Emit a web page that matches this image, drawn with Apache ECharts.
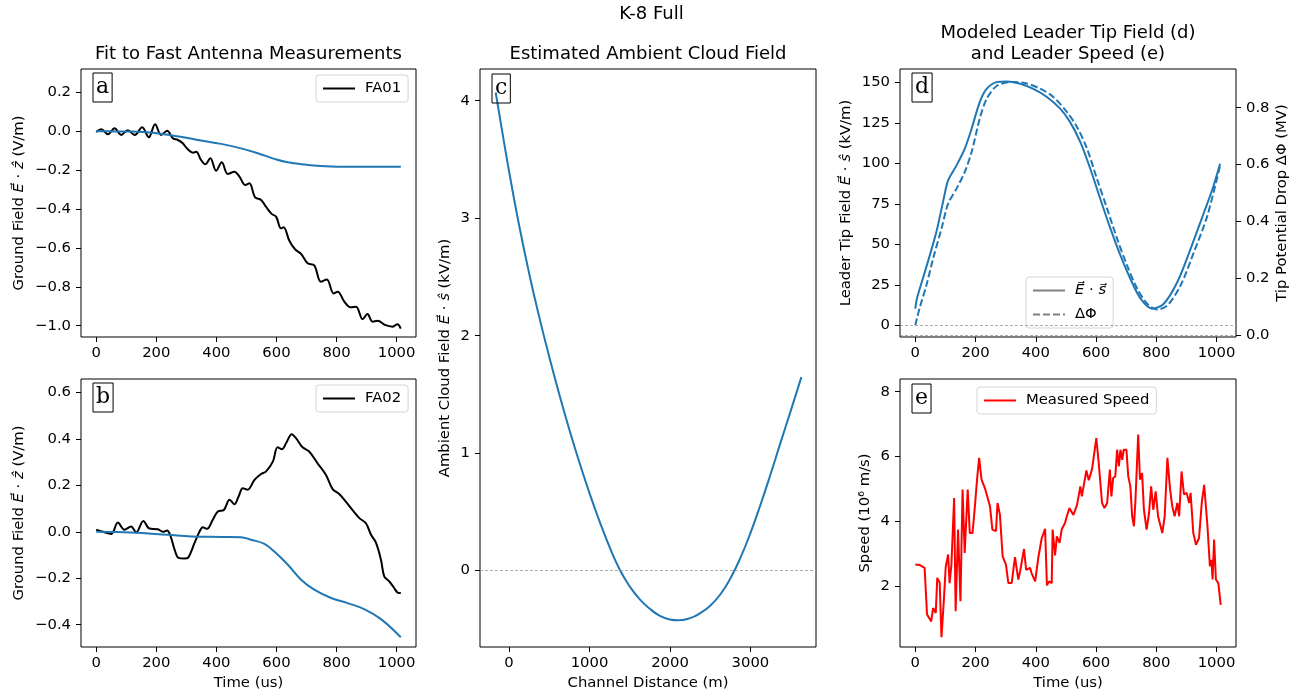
<!DOCTYPE html>
<html>
<head>
<meta charset="utf-8">
<script src="https://cdn.jsdelivr.net/npm/echarts@6/dist/echarts.min.js"></script>
<style>
  html, body { margin: 0; padding: 0; background: #fff; }
  #chart { width: 1303px; height: 699px; }
</style>
</head>
<body>
<div id="chart"></div>
<script>
// ---- data: [time (us), field (V/m)] ----
const fa01 = [[0,-0.004],[17,0.010],[39,-0.016],[61,0.015],[83,-0.019],[105,0.005],[128,-0.019],[153,0.020],[175,-0.031],[196,0.036],[216,-0.019],[236,0.003],[255,-0.036],[272,-0.045],[288,-0.062],[305,-0.093],[322,-0.110],[333,-0.106],[349,-0.148],[363,-0.170],[380,-0.139],[399,-0.203],[418,-0.160],[438,-0.220],[460,-0.208],[477,-0.233],[496,-0.276],[510,-0.268],[529,-0.340],[549,-0.353],[565,-0.388],[584,-0.425],[599,-0.439],[615,-0.499],[624,-0.494],[643,-0.563],[662,-0.607],[682,-0.631],[704,-0.679],[726,-0.690],[748,-0.774],[768,-0.762],[790,-0.834],[804,-0.825],[826,-0.876],[846,-0.905],[865,-0.902],[887,-0.967],[903,-0.940],[920,-0.979],[937,-0.974],[961,-0.996],[987,-1.005],[1003,-0.992],[1014,-1.015]];
const fit01 = [[0,0],[60,-0.001],[120,-0.002],[172,-0.005],[249,-0.021],[300,-0.033],[338,-0.045],[416,-0.065],[482,-0.088],[538,-0.113],[593,-0.142],[638,-0.160],[704,-0.173],[782,-0.181],[892,-0.183],[1014,-0.182]];

const fa02 = [[0,0.009],[22,0],[50,-0.009],[72,0.040],[94,0.009],[116,0.023],[133,-0.003],[157,0.047],[177,0.014],[205,0.011],[222,0],[236,0.006],[247,-0.017],[261,-0.077],[274,-0.112],[294,-0.115],[307,-0.110],[327,-0.049],[344,0.001],[355,0.020],[369,0.013],[388,0.052],[405,0.087],[425,0.094],[444,0.138],[460,0.119],[474,0.152],[488,0.188],[504,0.181],[527,0.224],[549,0.249],[565,0.259],[588,0.302],[604,0.364],[619,0.356],[632,0.381],[651,0.420],[665,0.403],[687,0.364],[709,0.346],[737,0.295],[765,0.245],[787,0.184],[809,0.163],[831,0.130],[853,0.094],[876,0.059],[898,0.037],[915,-0.013],[931,-0.046],[948,-0.120],[959,-0.192],[976,-0.214],[992,-0.242],[1003,-0.261],[1014,-0.264]];
const fit02 = [[0,0],[116,-0.003],[238,-0.013],[316,-0.020],[416,-0.022],[482,-0.023],[515,-0.034],[560,-0.052],[593,-0.085],[638,-0.142],[682,-0.206],[726,-0.249],[782,-0.285],[837,-0.307],[892,-0.333],[948,-0.376],[1014,-0.454]];

// ---- ambient cloud field: [channel distance (m), kV/m] ----
const cloudField = [[-166,4.07],[-83,3.73],[0,3.40],[125,2.94],[250,2.53],[375,2.16],[500,1.82],[625,1.50],[750,1.20],[875,0.92],[1000,0.66],[1125,0.42],[1250,0.20],[1375,0.01],[1500,-0.135],[1625,-0.245],[1750,-0.325],[1875,-0.385],[2000,-0.416],[2097,-0.423],[2250,-0.404],[2375,-0.362],[2500,-0.298],[2625,-0.203],[2750,-0.067],[2875,0.108],[3000,0.32],[3125,0.561],[3250,0.82],[3375,1.092],[3500,1.358],[3633,1.647]];

// ---- leader tip: field (kV/m) and potential drop (MV) vs time (us) ----
const tipField = [[0,10.3],[6,16.9],[25,28.8],[48,43.2],[70,57.6],[92,76.1],[109,89.5],[137,98.8],[164,109],[187,121.4],[214,137.9],[237,146],[270,150.2],[303,150.6],[348,149.2],[392,146],[437,141],[481,133.8],[514,125.5],[548,113.2],[581,96.7],[614,78.2],[648,59.7],[681,43.2],[714,28.8],[748,16.5],[787,10.3],[825,13.4],[870,26.8],[914,47.3],[959,70],[987,84.4],[1012,99.8]];
const tipDrop = [[0,0.034],[14,0.093],[37,0.175],[59,0.268],[87,0.374],[109,0.462],[137,0.515],[164,0.573],[187,0.644],[214,0.761],[237,0.831],[270,0.876],[314,0.890],[359,0.888],[414,0.867],[459,0.837],[503,0.785],[537,0.732],[570,0.656],[603,0.550],[637,0.444],[670,0.339],[703,0.245],[737,0.163],[770,0.110],[803,0.090],[837,0.104],[881,0.175],[925,0.292],[970,0.421],[1012,0.597]];

// ---- measured leader speed: [time (us), 10^6 m/s] ----
const speed = [[0,2.67],[14,2.66],[31,2.57],[39,1.13],[53,0.92],[59,1.33],[68,1.18],[73,2.26],[81,2.12],[87,0.43],[95,1.59],[101,2.59],[109,2.98],[114,2.1],[120,2.67],[129,4.72],[134,1.23],[142,3.75],[150,1.54],[157,4.98],[164,3.03],[174,4.98],[181,3.64],[190,3.64],[198,4.47],[205,5.29],[212,5.96],[220,5.29],[231,5.03],[239,4.77],[248,4.47],[256,3.75],[268,3.7],[273,4.57],[281,4.21],[290,2.92],[301,2.67],[309,2.1],[320,2.1],[331,2.9],[342,2.21],[348,2.46],[361,3.15],[368,2.51],[381,2.57],[386,2.41],[398,2.15],[409,2.92],[420,3.49],[431,3.77],[437,2.03],[444,2.15],[453,2.1],[456,3.75],[464,2.95],[470,3.54],[479,3.34],[486,3.75],[497,3.95],[503,4.16],[512,4.41],[525,4.2],[537,4.51],[548,5.08],[553,4.77],[568,5.57],[576,5.27],[587,5.62],[601,6.57],[609,5.8],[620,4.57],[628,4.41],[637,4.57],[646,5.6],[651,4.77],[657,5.34],[664,5.39],[670,6.21],[676,5.7],[681,6.21],[687,5.9],[692,6.21],[701,6.21],[707,5.39],[714,5.08],[720,4.16],[726,3.85],[731,4.67],[740,6.68],[746,5.29],[753,5.49],[759,4.36],[768,3.75],[776,4.26],[783,5.08],[790,4.36],[798,4.93],[806,4.16],[812,4.16],[820,3.64],[828,4.16],[837,5.96],[846,4.98],[853,4.47],[861,4.16],[870,4.57],[876,4.16],[884,5.54],[892,4.83],[901,4.88],[909,4.57],[914,4.88],[923,3.64],[932,3.28],[942,3.49],[951,4.57],[959,5.13],[964,5.08],[970,3.85],[978,2.62],[983,2.82],[987,2.21],[992,3.44],[998,2.21],[1006,2.1],[1014,1.43]];

// ---- tick labels ----
const timeTicks = [0, 200, 400, 600, 800, 1000];
const fieldTicksA = [-1.0, -0.8, -0.6, -0.4, -0.2, 0.0, 0.2];
const fieldTicksB = [-0.4, -0.2, 0.0, 0.2, 0.4, 0.6];
const distTicks = [0, 1000, 2000, 3000];
const cloudTicks = [0, 1, 2, 3, 4];
const tipFieldTicks = [0, 25, 50, 75, 100, 125, 150];
const tipDropTicks = [0.0, 0.2, 0.4, 0.6, 0.8];
const speedTicks = [2, 4, 6, 8];

const FONT = 'DejaVu Sans';
const FS = 14.8;
const TITLE_FS = 18;
const BLUE = '#1f77b4';
const MINUS = '\u2212';

const fmtInt = v => (v < 0 ? MINUS : '') + Math.abs(Math.round(v));
const fmt1 = v => (Math.abs(v) < 1e-9 ? '0.0' : (v < 0 ? MINUS : '') + Math.abs(v).toFixed(1));

const richItalic = { i: { fontStyle: 'italic', fontFamily: FONT, fontSize: FS, color: '#000' } };
const nameStyle = { fontFamily: FONT, fontSize: FS, color: '#000', rich: richItalic };

function valueAxis(opts) {
  return {
    type: 'value',
    gridIndex: opts.grid,
    min: opts.min,
    max: opts.max,
    position: opts.position,
    axisLine: { show: false, onZero: false },
    splitLine: { show: false },
    axisTick: { show: true, length: 5, lineStyle: { color: '#000', width: 1 }, customValues: opts.ticks },
    axisLabel: {
      customValues: opts.ticks, color: '#000', fontFamily: FONT, fontSize: FS,
      margin: opts.margin || 9, formatter: opts.fmt || fmtInt
    },
    name: opts.name || '',
    nameLocation: 'middle',
    nameGap: opts.nameGap || 30,
    nameRotate: opts.nameRotate,
    nameTextStyle: nameStyle
  };
}

const gridBox = { show: true, borderColor: '#000', borderWidth: 1, backgroundColor: 'transparent' };

const zeroLine = {
  silent: true, symbol: ['none', 'none'], label: { show: false },
  lineStyle: { color: '#999', type: [3, 2], width: 0.8 },
  emphasis: { disabled: true },
  data: [{ yAxis: 0 }]
};

function line(name, xi, yi, data, color, extra) {
  return Object.assign({
    type: 'line', name: name, xAxisIndex: xi, yAxisIndex: yi, data: data,
    showSymbol: false, symbol: 'none', smooth: false,
    lineStyle: { color: color, width: 2 }, itemStyle: { color: color },
    emphasis: { disabled: true }, animation: false
  }, extra || {});
}

// legend handles are plain line samples (the marker is made invisible)
const legendBase = {
  itemWidth: 32, itemHeight: 14, itemGap: 9,
  selectedMode: false,
  itemStyle: { opacity: 0 },
  textStyle: { fontFamily: FONT, fontSize: FS, color: '#000', rich: richItalic, padding: [0, 0, 0, 5] },
  borderColor: '#d5d5d5', borderWidth: 1, borderRadius: 3,
  backgroundColor: 'rgba(255,255,255,0.8)',
  padding: [6, 7, 6, 6]
};

function label(letter, x, y) {
  return {
    type: 'text', x: x, y: y, z: 50,
    style: {
      text: letter, font: '22px "DejaVu Serif"', fill: '#000',
      borderColor: '#000', borderWidth: 1, padding: [3, 3, 4, 3], lineHeight: 22
    }
  };
}
function titleText(text, x, y) {
  return {
    type: 'text', x: x, y: y, z: 50,
    style: { text: text, font: TITLE_FS + 'px "DejaVu Sans"', fill: '#000', align: 'center', verticalAlign: 'middle' }
  };
}

const chart = echarts.init(document.getElementById('chart'), null, { renderer: 'canvas' });

chart.setOption({
  animation: false,
  backgroundColor: '#fff',
  grid: [
    Object.assign({ left: 81, top: 69, width: 335, height: 268 }, gridBox),
    Object.assign({ left: 81, top: 379, width: 335, height: 268 }, gridBox),
    Object.assign({ left: 480, top: 69, width: 336, height: 578 }, gridBox),
    Object.assign({ left: 900, top: 69, width: 336, height: 268 }, gridBox),
    Object.assign({ left: 900, top: 379, width: 336, height: 268 }, gridBox)
  ],
  xAxis: [
    valueAxis({ grid: 0, min: -50.7, max: 1064.7, ticks: timeTicks }),
    valueAxis({ grid: 1, min: -50.7, max: 1064.7, ticks: timeTicks, name: 'Time (us)', nameGap: 29 }),
    valueAxis({ grid: 2, min: -361, max: 3815, ticks: distTicks, name: 'Channel Distance (m)', nameGap: 29 }),
    valueAxis({ grid: 3, min: -50.7, max: 1064.7, ticks: timeTicks }),
    valueAxis({ grid: 4, min: -50.7, max: 1064.7, ticks: timeTicks, name: 'Time (us)', nameGap: 29 })
  ],
  yAxis: [
    valueAxis({ grid: 0, min: -1.058, max: 0.32, ticks: fieldTicksA, fmt: fmt1, margin: 10,
      name: 'Ground Field {i|E\u20D7} \u00B7 {i|\u1E91} (V/m)', nameGap: 54, nameRotate: 90 }),
    valueAxis({ grid: 1, min: -0.496, max: 0.658, ticks: fieldTicksB, fmt: fmt1, margin: 10,
      name: 'Ground Field {i|E\u20D7} \u00B7 {i|\u1E91} (V/m)', nameGap: 54, nameRotate: 90 }),
    valueAxis({ grid: 2, min: -0.65, max: 4.27, ticks: cloudTicks, margin: 10,
      name: 'Ambient Cloud Field {i|E\u20D7} \u00B7 {i|\u015D} (kV/m)', nameGap: 27, nameRotate: 90 }),
    valueAxis({ grid: 3, min: -7.16, max: 158.3, ticks: tipFieldTicks, margin: 10,
      name: 'Leader Tip Field {i|E\u20D7} \u00B7 {i|\u015D} (kV/m)', nameGap: 46, nameRotate: 90 }),
    valueAxis({ grid: 3, min: -0.007, max: 0.936, ticks: tipDropTicks, fmt: fmt1, margin: 10, position: 'right',
      name: 'Tip Potential Drop \u0394\u03A6 (MV)', nameGap: 39, nameRotate: 90 }),
    valueAxis({ grid: 4, min: 0.13, max: 8.39, ticks: speedTicks, margin: 10,
      name: 'Speed (10\u2076 m/s)', nameGap: 27, nameRotate: 90 })
  ],
  legend: [
    Object.assign({}, legendBase, { data: ['FA01'], left: 316, top: 75 }),
    Object.assign({}, legendBase, { data: ['FA02'], left: 316, top: 385 }),
    Object.assign({}, legendBase, {
      orient: 'vertical', left: 1026, top: 277,
      data: [
        { name: 'Es', itemStyle: { opacity: 0 }, lineStyle: { color: '#808080' } },
        { name: 'dPhi', itemStyle: { opacity: 0 }, lineStyle: { color: '#808080' } }
      ],
      formatter: n => (n === 'Es' ? '{i|E\u20D7} \u00B7 {i|s\u20D7}' : '\u0394\u03A6')
    }),
    Object.assign({}, legendBase, { data: ['Measured Speed'], left: 977, top: 387 })
  ],
  series: [
    line('FA01', 0, 0, fa01, '#000', { smooth: 0.35 }),
    line('fit01', 0, 0, fit01, BLUE, { smooth: 0.4 }),
    line('FA02', 1, 1, fa02, '#000', { smooth: 0.35 }),
    line('fit02', 1, 1, fit02, BLUE, { smooth: 0.4 }),
    line('cloud', 2, 2, cloudField, BLUE, { smooth: 0.5, markLine: zeroLine }),
    line('Es', 3, 3, tipField, BLUE, { smooth: 0.3, markLine: zeroLine }),
    line('dPhi', 3, 4, tipDrop, BLUE, { smooth: 0.3, markLine: zeroLine,
      lineStyle: { color: BLUE, width: 2, type: [7, 3] } }),
    line('Measured Speed', 4, 5, speed, '#ff0000', { lineStyle: { color: '#ff0000', width: 2 } })
  ],
  graphic: [
    titleText('K-8 Full', 651.5, 14),
    titleText('Fit to Fast Antenna Measurements', 248.5, 54),
    titleText('Estimated Ambient Cloud Field', 648, 54),
    titleText('Modeled Leader Tip Field (d)', 1068, 33),
    titleText('and Leader Speed (e)', 1068, 54),
    label('a', 93, 73),
    label('b', 93, 383),
    label('c', 492, 74),
    label('d', 912, 73),
    label('e', 912, 384)
  ]
});
</script>
</body>
</html>
